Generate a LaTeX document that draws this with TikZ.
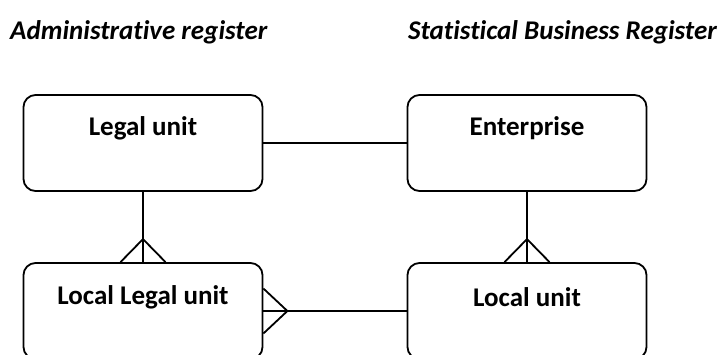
\documentclass[tikz,border=0pt]{standalone}
\usepackage{fontspec}
\setmainfont[Ligatures=CommonOff]{Carlito}
\begin{document}
\begin{tikzpicture}[x=1pt,y=-1pt,
  ebox/.style={draw, line width=1.8pt, rounded corners=12pt, minimum width=239pt, minimum height=96pt, inner sep=0pt},
  lbl/.style={font=\bfseries\fontsize{27}{30}\selectfont, inner sep=0pt},
  hdr/.style={font=\bfseries\itshape\fontsize{27}{30}\selectfont, inner sep=0pt},
  conn/.style={line width=1.8pt}]
\useasboundingbox (0,0) rectangle (722,354);
\clip (0,0) rectangle (722,354);
\node[hdr, anchor=west] (h1) at (10,32) {Administrative register};
\node[hdr, anchor=east] (h2) at (717,32) {Statistical Business Register};
\node[ebox] (lu) at (143,143) {};
\node[ebox] (ent) at (527,143) {};
\node[ebox] (llu) at (143,311) {};
\node[ebox] (loc) at (527,311) {};
\node[lbl] (tlu) at (143,128) {Legal unit};
\node[lbl] (tent) at (527,128) {Enterprise};
\node[lbl] (tllu) at (143,297) {Local Legal unit};
\node[lbl] (tloc) at (527,297) {Local unit};
\draw[conn] (lu) -- (ent);
\draw[conn] (lu.south) -- (llu.north);
\draw[conn] (ent.south) -- (loc.north);
\draw[conn] (llu) -- (loc);
\coordinate (a1) at ([yshift=23pt]llu.north);
\draw[conn] ([xshift=-22.5pt]llu.north) -- (a1) -- ([xshift=22.5pt]llu.north);
\coordinate (a2) at ([yshift=23pt]loc.north);
\draw[conn] ([xshift=-22.5pt]loc.north) -- (a2) -- ([xshift=22.5pt]loc.north);
\coordinate (a3) at ([xshift=24pt]llu.east);
\draw[conn] ([yshift=-22.5pt]llu.east) -- (a3) -- ([yshift=22.5pt]llu.east);
\end{tikzpicture}
\end{document}
